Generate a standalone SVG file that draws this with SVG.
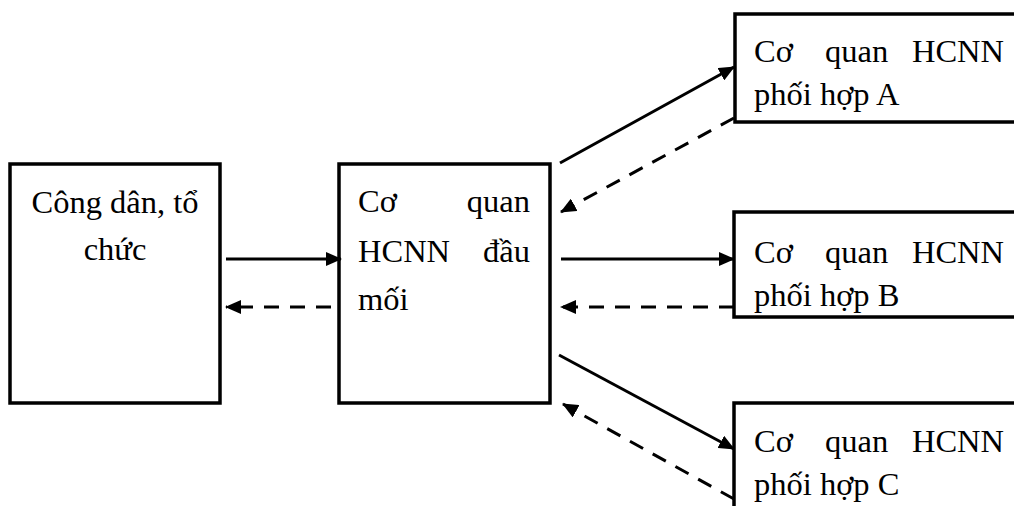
<svg xmlns="http://www.w3.org/2000/svg" width="1014" height="506" viewBox="0 0 1014 506">
<style>
.box{fill:#fff;stroke:#000;stroke-width:3.5}
.t{font-family:"Liberation Serif","Times New Roman",serif;font-size:32.5px;fill:#000}
.e{text-anchor:end}
.m{text-anchor:middle}
.ln{stroke:#000;stroke-width:3;fill:none}
.solid{marker-end:url(#ah)}
.dash{stroke-dasharray:15 11;marker-end:url(#ah)}
</style>
<defs>
<marker id="ah" markerUnits="userSpaceOnUse" markerWidth="16" markerHeight="14" viewBox="0 0 16 14" refX="15" refY="7" orient="auto">
<path d="M0,0 L16,7 L0,14 z" fill="#000"/>
</marker>
</defs>
<rect width="1014" height="506" fill="#fff"/>
<g id="node-congdan">
<rect class="box" x="10" y="164" width="210" height="239"/>
<text class="t m" x="115" y="213">Công dân, tổ</text>
<text class="t m" x="115" y="260">chức</text>
</g>
<g id="node-daumoi">
<rect class="box" x="339" y="164" width="211" height="239"/>
<text class="t" x="358" y="212">Cơ</text>
<text class="t e" x="530" y="212">quan</text>
<text class="t" x="358" y="262">HCNN</text>
<text class="t e" x="530" y="262">đầu</text>
<text class="t" x="358" y="310">mối</text>
</g>
<g id="node-a">
<rect class="box" x="735" y="14" width="320" height="108"/>
<text class="t" x="754" y="62">Cơ</text>
<text class="t" x="825" y="62">quan</text>
<text class="t e" x="1004" y="62">HCNN</text>
<text class="t" x="754" y="105">phối hợp A</text>
</g>
<g id="node-b">
<rect class="box" x="734" y="212" width="320" height="105"/>
<text class="t" x="754" y="263">Cơ</text>
<text class="t" x="825" y="263">quan</text>
<text class="t e" x="1004" y="263">HCNN</text>
<text class="t" x="754" y="306">phối hợp B</text>
</g>
<g id="node-c">
<rect class="box" x="734" y="403" width="320" height="140"/>
<text class="t" x="754" y="452">Cơ</text>
<text class="t" x="825" y="452">quan</text>
<text class="t e" x="1004" y="452">HCNN</text>
<text class="t" x="754" y="495">phối hợp C</text>
</g>
<g id="connectors">
<line class="ln solid" x1="226" y1="259" x2="341" y2="259"/>
<line class="ln dash" x1="331" y1="307" x2="226" y2="307"/>
<line class="ln solid" x1="561" y1="259" x2="734" y2="259"/>
<line class="ln dash" x1="734" y1="307" x2="561" y2="307"/>
<line class="ln solid" x1="560" y1="163" x2="734" y2="67"/>
<line class="ln dash" x1="734" y1="118" x2="561" y2="212"/>
<line class="ln solid" x1="559" y1="355" x2="734" y2="449"/>
<line class="ln dash" x1="734" y1="499" x2="563" y2="404"/>
</g>
</svg>
